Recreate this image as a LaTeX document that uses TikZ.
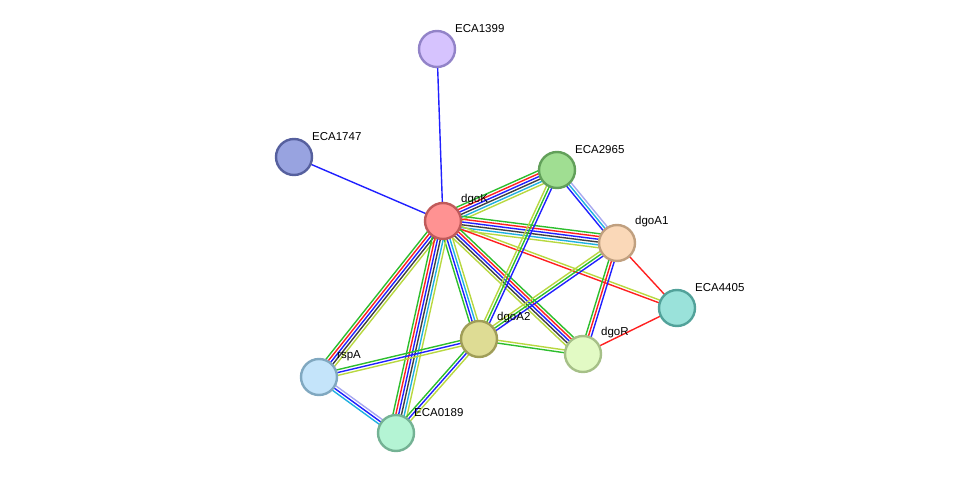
\documentclass[tikz,border=0pt]{standalone}
\usepackage{fontspec}
\setmainfont{Liberation Sans}
\usetikzlibrary{calc}
\definecolor{eg}{HTML}{2DBE2D}
\definecolor{er}{HTML}{FF2020}
\definecolor{eb}{HTML}{2020FF}
\definecolor{ek}{HTML}{404040}
\definecolor{ec}{HTML}{20B0E0}
\definecolor{ey}{HTML}{B8D840}
\definecolor{el}{HTML}{A8A8F0}
\tikzset{prot/.style={circle,minimum size=36pt,inner sep=0pt,line width=2.4pt},
 lab/.style={anchor=south west,font=\fontsize{11.5}{13}\selectfont,inner sep=0pt}}
\newcommand{\medge}[3]{%
 \foreach \cc [count=\ii] in {#3}{\xdef\nn{\ii}}%
 \foreach \cc [count=\ii] in {#3}{%
  \pgfmathsetmacro{\oo}{(\ii-(\nn+1)/2)*2.8}%
  \draw[\cc,line width=1.4pt] ($(#1.center)!\oo pt!90:(#2.center)$) -- ($(#2.center)!\oo pt!-90:(#1.center)$);}}
\newcommand{\prot}[5]{%
 \node[prot,fill=#4,draw=#5] (#1) at (#2) {};
 \node[lab] (#1-l) at ($(#2)+(18,-16)$) {#3};}
\begin{document}
\begin{tikzpicture}[x=1pt,y=-1pt]
\useasboundingbox (0,0) rectangle (975,479);
\path
 (437,49) coordinate (p1399) (294,157) coordinate (p1747) (443,221) coordinate (pK)
 (557,170) coordinate (p2965) (617,243) coordinate (pA1) (677,308) coordinate (p4405)
 (479,339) coordinate (pA2) (583,354) coordinate (pR) (319,377) coordinate (prs) (396,433) coordinate (p0189);
\begin{scope}[every node/.style={circle,minimum size=36pt,inner sep=0pt}]
\node (a) at (p1399) {}; \node (b) at (p1747) {}; \node (k) at (pK) {};
\node (c) at (p2965) {}; \node (d) at (pA1) {}; \node (e) at (p4405) {};
\node (f) at (pA2) {}; \node (g) at (pR) {}; \node (h) at (prs) {}; \node (i) at (p0189) {};
\end{scope}
\medge{k}{a}{eb}
\medge{k}{b}{eb}
\medge{k}{c}{ey,ec,ek,eb,er,eg}
\medge{k}{d}{ey,ec,ek,eb,er,eg}
\medge{k}{e}{er,ey}
\medge{k}{f}{eg,eb,ec,ey}
\medge{k}{g}{ey,ek,eb,er,eg}
\medge{k}{h}{eg,er,eb,ek,ey}
\medge{k}{i}{eg,er,eb,ek,ec,ey}
\medge{c}{d}{eb,ec,el}
\medge{c}{f}{ey,eg,eb}
\medge{d}{f}{ey,eg,eb}
\medge{d}{g}{eg,er,eb}
\medge{d}{e}{er}
\medge{g}{e}{er}
\medge{f}{g}{eg,ey}
\medge{f}{h}{eg,eb,ey}
\medge{f}{i}{eg,eb,ey}
\medge{h}{i}{ec,eb,el}
\definecolor{f1}{HTML}{D6C3FE}\definecolor{d1}{HTML}{9283C8}
\definecolor{f2}{HTML}{98A3E0}\definecolor{d2}{HTML}{56609E}
\definecolor{f3}{HTML}{FF9292}\definecolor{d3}{HTML}{C05A5A}
\definecolor{f4}{HTML}{A0DE92}\definecolor{d4}{HTML}{62A05A}
\definecolor{f5}{HTML}{FAD8B8}\definecolor{d5}{HTML}{C0A080}
\definecolor{f6}{HTML}{9AE2DA}\definecolor{d6}{HTML}{52A29A}
\definecolor{f7}{HTML}{DEDC94}\definecolor{d7}{HTML}{A09E58}
\definecolor{f8}{HTML}{E2FAC4}\definecolor{d8}{HTML}{A6C088}
\definecolor{f9}{HTML}{C4E4FA}\definecolor{d9}{HTML}{80A8C0}
\definecolor{f0}{HTML}{B4F4D4}\definecolor{d0}{HTML}{74B294}
\prot{ECA1399}{p1399}{ECA1399}{f1}{d1}
\prot{ECA1747}{p1747}{ECA1747}{f2}{d2}
\prot{dgoK}{pK}{dgoK}{f3}{d3}
\prot{ECA2965}{p2965}{ECA2965}{f4}{d4}
\prot{dgoA1}{pA1}{dgoA1}{f5}{d5}
\prot{ECA4405}{p4405}{ECA4405}{f6}{d6}
\prot{dgoA2}{pA2}{dgoA2}{f7}{d7}
\prot{dgoR}{pR}{dgoR}{f8}{d8}
\prot{rspA}{prs}{rspA}{f9}{d9}
\prot{ECA0189}{p0189}{ECA0189}{f0}{d0}
\end{tikzpicture}
\end{document}
